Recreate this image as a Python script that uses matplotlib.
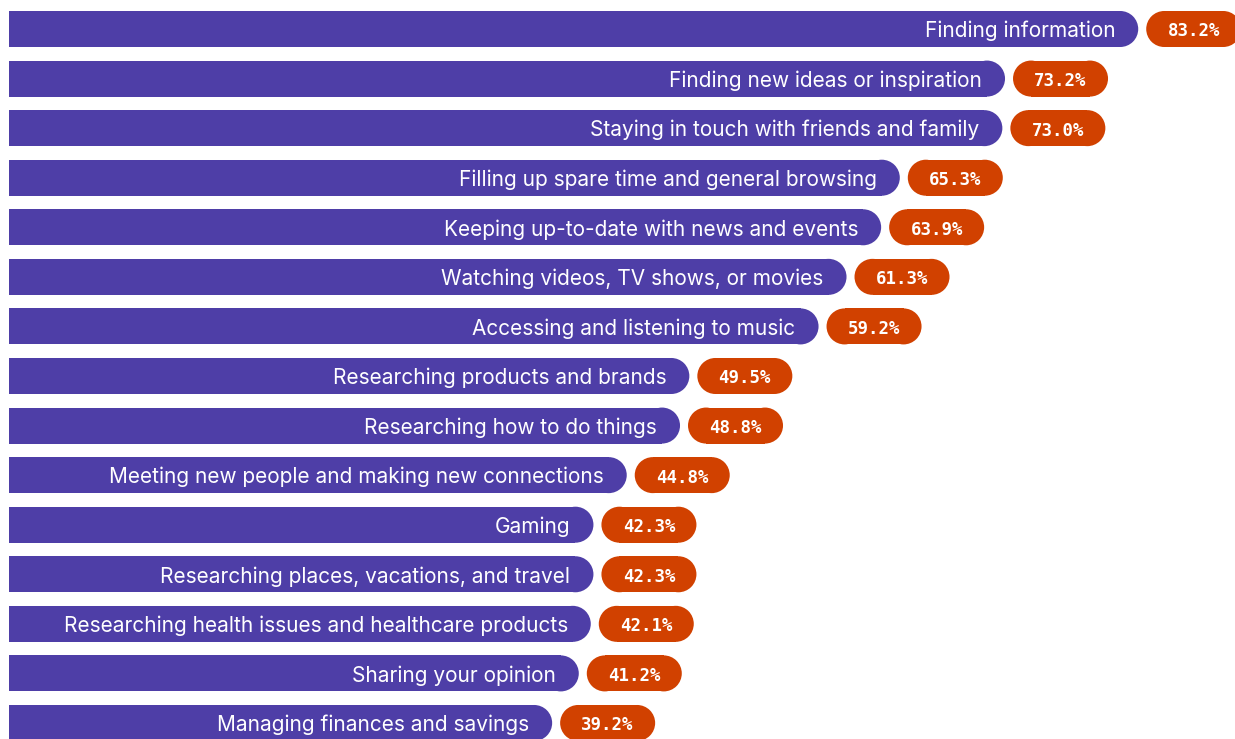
import matplotlib.pyplot as plt
from matplotlib.patches import Rectangle, Ellipse

categories = [
    "Finding information",
    "Finding new ideas or inspiration",
    "Staying in touch with friends and family",
    "Filling up spare time and general browsing",
    "Keeping up-to-date with news and events",
    "Watching videos, TV shows, or movies",
    "Accessing and listening to music",
    "Researching products and brands",
    "Researching how to do things",
    "Meeting new people and making new connections",
    "Gaming",
    "Researching places, vacations, and travel",
    "Researching health issues and healthcare products",
    "Sharing your opinion",
    "Managing finances and savings",
]
values = [83.2, 73.2, 73.0, 65.3, 63.9, 61.3, 59.2, 49.5, 48.8, 44.8,
          42.3, 42.3, 42.1, 41.2, 39.2]

BAR_COLOR = "#4E3EA7"
PILL_COLOR = "#D14100"

W, H, DPI = 1235, 739, 100
fig = plt.figure(figsize=(W / DPI, H / DPI), dpi=DPI)

# axes start a few pixels in from the left edge; bars are clipped there
left_px = 9
ax = fig.add_axes([left_px / W, 0, 1 - left_px / W, 1])
px_per_x = 13.32
px_per_row = 49.57
zero_px = 30
ax.set_xlim((left_px - zero_px) / px_per_x, (W - zero_px) / px_per_x)
ax.set_ylim((H - 29) / px_per_row, -29 / px_per_row)
ax.axis("off")

bar_h = 36 / px_per_row
rx = 18 / px_per_x          # cap radius in x units
pill_w = 95 / px_per_x
gap = 8 / px_per_x
pad = 23 / px_per_x


def capsule(x0, x1, y, color, round_left=True, clip=True):
    """Rectangle with semicircular ends between x0 and x1."""
    a = x0 + rx if round_left else x0
    b = x1 - rx
    ax.add_patch(Rectangle((a, y - bar_h / 2), b - a, bar_h, fc=color,
                           ec="none", lw=0, clip_on=clip))
    ax.add_patch(Ellipse((b, y), 2 * rx, bar_h, fc=color, ec="none",
                         lw=0, clip_on=clip))
    if round_left:
        ax.add_patch(Ellipse((a, y), 2 * rx, bar_h, fc=color, ec="none",
                             lw=0, clip_on=clip))


for i, (label, val) in enumerate(zip(categories, values)):
    capsule(-10, val, i, BAR_COLOR, round_left=False)
    ax.text(val - pad, i + 0.04, label, ha="right", va="center",
            color="white", fontsize=15, family="Inter")

    px = val + gap
    capsule(px, px + pill_w, i, PILL_COLOR, clip=False)
    ax.text(px + pill_w / 2, i + 0.05, f"{val:.1f}%", ha="center",
            va="center", color="white", fontsize=12.5, fontweight="bold",
            family="DejaVu Sans Mono")

fig.savefig("out.png", dpi=DPI)
